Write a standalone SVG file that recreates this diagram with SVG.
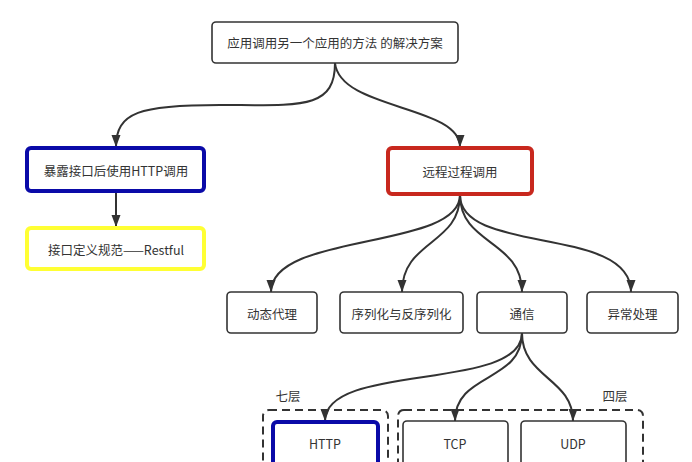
<svg xmlns="http://www.w3.org/2000/svg" width="692" height="462" viewBox="0 0 692 462">
<defs>
<style>
.box{fill:#fff;stroke:#333;stroke-width:1.6}
.blue{fill:#fff;stroke:#0a0aa8;stroke-width:4}
.yellow{fill:#fff;stroke:#ffff33;stroke-width:4}
.red{fill:#fff;stroke:#c8281e;stroke-width:4}
.grp{fill:none;stroke:#333;stroke-width:2;stroke-dasharray:8 5}
.edge{fill:none;stroke:#333;stroke-width:2;marker-end:url(#arr)}
text{font-family:"Noto Sans CJK SC","Liberation Sans",sans-serif;font-size:12.5px;fill:#333;text-anchor:middle;dominant-baseline:central}
</style>
<marker id="arr" markerUnits="userSpaceOnUse" viewBox="0 0 12 10" refX="12" refY="5" markerWidth="12" markerHeight="10" orient="auto">
<path d="M0,0.5 L12,5 L0,9.5 Z" fill="#333"/>
</marker>
</defs>
<rect width="692" height="462" fill="#fff"/>
<g id="connectors">
<path class="edge" d="M335,63 C335,110 300,105 220,105 C140,105 116,112 116,147"/>
<path class="edge" d="M335,63 C340,110 460,105 460,147"/>
<path class="edge" d="M116,192 L116,227"/>
<path class="edge" d="M460,195 C460,250 271,232 271,292"/>
<path class="edge" d="M460,195 C460,245 402,240 402,292"/>
<path class="edge" d="M460,195 C460,245 522,240 522,292"/>
<path class="edge" d="M460,195 C460,255 631,225 631,292"/>
<path class="edge" d="M522,333 C522,392 325,362 325,421"/>
<path class="edge" d="M522,333 C522,383 455,372 455,421"/>
<path class="edge" d="M522,333 C522,378 573,378 573,421"/>
</g>
<g id="root"><rect class="box" x="212" y="22" width="246" height="41" rx="4"/><text x="335" y="42.5">应用调用另一个应用的方法 的解决方案</text></g>
<g id="http-call"><rect class="blue" x="27" y="148" width="177" height="43" rx="4"/><text x="116" y="170">暴露接口后使用HTTP调用</text></g>
<g id="restful"><rect class="yellow" x="27" y="228" width="177" height="41" rx="4"/><text x="116" y="249">接口定义规范——Restful</text></g>
<g id="rpc"><rect class="red" x="388" y="148" width="144" height="46" rx="4"/><text x="460" y="171">远程过程调用</text></g>
<g id="proxy"><rect class="box" x="227" y="292" width="90" height="41" rx="4"/><text x="272" y="313">动态代理</text></g>
<g id="serial"><rect class="box" x="340" y="292" width="123" height="41" rx="4"/><text x="401.5" y="313">序列化与反序列化</text></g>
<g id="comm"><rect class="box" x="477" y="292" width="90" height="41" rx="4"/><text x="522" y="313">通信</text></g>
<g id="exc"><rect class="box" x="587" y="292" width="91" height="41" rx="4"/><text x="632.5" y="313">异常处理</text></g>
<g id="layer7"><rect class="grp" x="263" y="410" width="125" height="70" rx="6"/><text x="288" y="395">七层</text></g>
<g id="layer4"><rect class="grp" x="398" y="410" width="245" height="70" rx="6"/><text x="615" y="395">四层</text></g>
<g id="http"><rect class="blue" x="273" y="422" width="105" height="50" rx="4"/><text x="325" y="443">HTTP</text></g>
<g id="tcp"><rect class="box" x="403" y="421" width="105" height="50" rx="4"/><text x="455" y="443">TCP</text></g>
<g id="udp"><rect class="box" x="521" y="421" width="105" height="50" rx="4"/><text x="573" y="443">UDP</text></g>
</svg>
